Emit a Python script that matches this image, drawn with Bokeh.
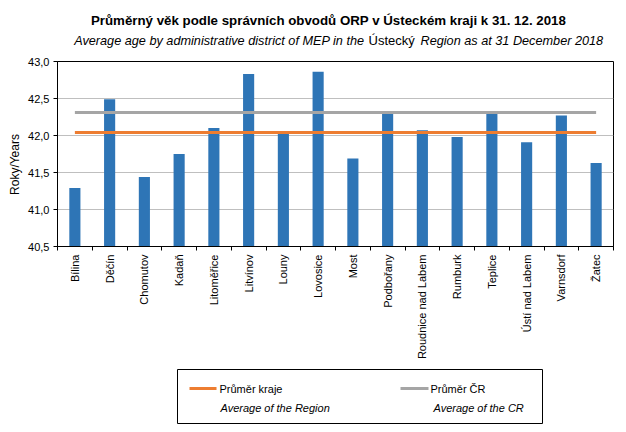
import math
from bokeh.plotting import figure
from bokeh.models import Range1d, FixedTicker
from bokeh.layouts import column, row
from bokeh.embed import file_html
from bokeh.resources import INLINE
from bokeh.core.properties import value

# ---------------- data ----------------
districts = ["Bílina", "Děčín", "Chomutov", "Kadaň", "Litoměřice", "Litvínov", "Louny",
             "Lovosice", "Most", "Podbořany", "Roudnice nad Labem", "Rumburk", "Teplice",
             "Ústí nad Labem", "Varnsdorf", "Žatec"]
avg_age = [41.29, 42.49, 41.44, 41.75, 42.10, 42.83, 42.03, 42.86, 41.69, 42.29,
           42.07, 41.98, 42.29, 41.91, 42.27, 41.63]
region_avg = 42.04
cr_avg = 42.31
y_ticks = [40.5, 41.0, 41.5, 42.0, 42.5, 43.0]
y_tick_labels = ["40,5", "41,0", "41,5", "42,0", "42,5", "43,0"]
title_text = "Průměrný věk podle správních obvodů ORP v Ústeckém kraji k 31. 12. 2018"
sub_1 = "Average age by administrative district of MEP in the"
sub_2 = "Ústecký"
sub_3 = "Region as at 31 December 2018"
y_label = "Roky/Years"
legend_names = ["Průměr kraje", "Průměr ČR"]
legend_names_en = ["Average of the Region", "Average of the CR"]

FONT = "Liberation Sans"
BLUE = "#2E75B6"
ORANGE = "#ED7D31"
GRAY = "#A5A5A5"

W = 626
N = len(districts)
Y0, Y1 = 40.5, 43.0
centers = [i + 0.5 for i in range(N)]


def blank(width, height, x0, x1, y_top, y_bottom, **kw):
    f = figure(frame_width=width, frame_height=height, x_range=Range1d(x0, x1),
               y_range=Range1d(y_bottom, y_top), toolbar_location=None, output_backend="svg",
               x_axis_location=None, y_axis_location=None, background_fill_color="white",
               border_fill_color="white", frame_align=False,
               min_border_left=0, min_border_right=0, min_border_top=0, min_border_bottom=0, **kw)
    f.grid.visible = False
    f.outline_line_color = None
    return f


# ---------------- header (page coords 0..56) ----------------
HEAD = 56
hd = blank(W, HEAD, 0, W, 0, HEAD)
hd.text(x=[328], y=[20], text=[title_text], text_font=value(FONT), text_font_size="13.3px",
        text_font_style="bold", text_align="center", text_baseline="alphabetic",
        text_color="black")
hd.text(x=[364], y=[40], text=[sub_1], text_font=value(FONT), text_font_size="12.7px",
        text_font_style="italic", text_align="right", text_baseline="alphabetic",
        text_color="black")
hd.text(x=[368], y=[40], text=[sub_2], text_font=value(FONT), text_font_size="13px",
        text_font_style="normal", text_align="left", text_baseline="alphabetic",
        text_color="black")
hd.text(x=[420], y=[40], text=[sub_3], text_font=value(FONT), text_font_size="12.7px",
        text_font_style="italic", text_align="left", text_baseline="alphabetic",
        text_color="black")

# ---------------- y label column ----------------
YLW = 25
MID_H = 304  # page y 56..360
yl = blank(YLW, MID_H, 0, YLW, HEAD, HEAD + MID_H)
yl.text(x=[14.5], y=[164], text=[y_label], angle=math.pi / 2, text_font=value(FONT),
        text_font_size="12px", text_align="center", text_baseline="middle", text_color="black")

# ---------------- main chart ----------------
FL, FT, FW, FH = 57, 61, 556, 185
p = figure(frame_width=FW, frame_height=FH, x_range=Range1d(0, N), y_range=Range1d(Y0, Y1),
           min_border_left=FL - YLW, min_border_top=FT - HEAD, min_border_right=W - FL - FW,
           min_border_bottom=MID_H - (FT - HEAD) - FH,
           toolbar_location=None, output_backend="svg", background_fill_color="white",
           border_fill_color="white", frame_align=False)
p.outline_line_color = "black"
p.outline_line_width = 1

p.vbar(x=centers, top=avg_age, bottom=Y0, width=0.32, fill_color=BLUE, line_color=None)
p.line(x=centers, y=[cr_avg] * N, line_color=GRAY, line_width=3)
p.line(x=centers, y=[region_avg] * N, line_color=ORANGE, line_width=3)

p.xgrid.visible = False
p.ygrid.grid_line_color = "#BFBFBF"
p.ygrid.grid_line_width = 1
p.ygrid.ticker = FixedTicker(ticks=y_ticks)

ya = p.yaxis[0]
ya.ticker = FixedTicker(ticks=y_ticks)
ya.major_label_overrides = {t: l for t, l in zip(y_ticks, y_tick_labels)}
ya.major_tick_out = 4
ya.major_tick_in = 0
ya.minor_tick_out = 0
ya.minor_tick_in = 0
ya.axis_line_color = "black"
ya.major_tick_line_color = "black"
ya.major_label_text_font = FONT
ya.major_label_text_font_size = "11px"
ya.major_label_text_color = "black"
ya.major_label_standoff = 4

xa = p.xaxis[0]
xa.ticker = FixedTicker(ticks=centers, minor_ticks=list(range(N + 1)))
xa.major_label_overrides = {c: d for c, d in zip(centers, districts)}
xa.major_label_orientation = math.pi / 2
xa.major_tick_out = 0
xa.major_tick_in = 0
xa.minor_tick_out = 4
xa.minor_tick_in = 0
xa.minor_tick_line_color = "black"
xa.axis_line_color = "black"
xa.major_label_text_font = FONT
xa.major_label_text_font_size = "11px"
xa.major_label_text_color = "black"
xa.major_label_standoff = 4

# ---------------- legend box ----------------
LL, LT, LR, LB = 177, 367, 542, 421
lg = figure(frame_width=LR - LL, frame_height=LB - LT, x_range=Range1d(LL, LR),
            y_range=Range1d(LB, LT), min_border_left=LL, min_border_right=W - LR,
            min_border_top=LT - (HEAD + MID_H), min_border_bottom=432 - LB,
            toolbar_location=None, output_backend="svg",
            x_axis_location=None, y_axis_location=None, background_fill_color="white",
            border_fill_color="white", frame_align=False)
lg.grid.visible = False
lg.outline_line_color = "black"
lg.outline_line_width = 1

lg.line(x=[189, 216], y=[386, 386], line_color=ORANGE, line_width=3)
lg.line(x=[400, 428], y=[386, 386], line_color=GRAY, line_width=3)
lg.text(x=[219, 430], y=[386, 386], text=legend_names, text_font=value(FONT),
        text_font_size="11px", text_baseline="middle", text_align="left", text_color="black")
lg.text(x=[220, 433], y=[405, 405], text=legend_names_en, text_font=value(FONT),
        text_font_size="11px", text_font_style="italic", text_baseline="middle",
        text_align="left", text_color="black")

layout = column(hd, row(yl, p, spacing=0), lg, spacing=0)
open("out.html", "w").write(file_html(layout, INLINE))
